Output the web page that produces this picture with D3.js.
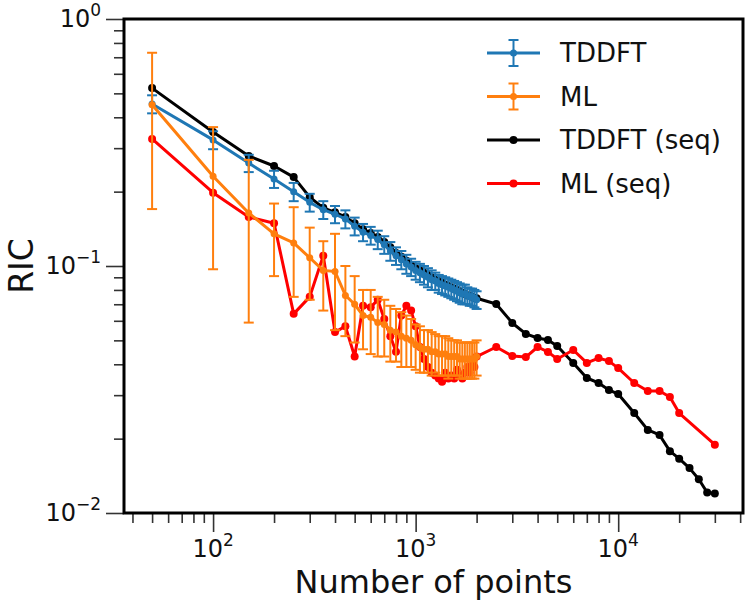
<!DOCTYPE html>
<html><head><meta charset="utf-8">
<script src="https://cdn.jsdelivr.net/npm/d3@7"></script>
<style>body{margin:0;background:#fff}svg{font-family:"DejaVu Sans",sans-serif}</style>
</head><body><svg id="c" width="750" height="607"></svg>
<script>
// ---- data ----
const nGrid = [50,100,150,200,250,300,350,400,450,500,550,600,650,700,750,800,850,900,950,1000,
  1050,1100,1150,1200,1250,1300,1350,1400,1450,1500,1550,1600,1650,1700,1750,1800,1850,1900,1950,2000];
const tddft = [0.453,0.324,0.261,0.225,0.200,0.181,0.169,0.162,0.155,0.145,
  0.137,0.133,0.128,0.122,0.115,0.110,0.106,0.102,0.099,0.096,
  0.094,0.092,0.090,0.088,0.087,0.085,0.084,0.083,0.082,0.081,
  0.080,0.079,0.078,0.077,0.077,0.076,0.075,0.075,0.074,0.073];
const tddftErr = [0.038,0.027,0.021,0.018,0.017,0.015,0.014,0.013,0.013,0.012,
  0.011,0.011,0.011,0.010,0.010,0.009,0.009,0.009,0.008,0.008,
  0.008,0.008,0.008,0.008,0.007,0.007,0.007,0.007,0.007,0.007,
  0.007,0.007,0.007,0.007,0.007,0.006,0.006,0.006,0.006,0.006];
const ml = [0.450,0.231,0.164,0.135,0.124,0.108,0.096,0.095,0.076,0.070,
  0.063,0.062,0.059,0.058,0.055,0.054,0.052,0.051,0.050,0.048,
  0.047,0.046,0.046,0.045,0.045,0.044,0.044,0.044,0.043,0.043,
  0.043,0.043,0.042,0.042,0.042,0.042,0.042,0.042,0.042,0.043];
const mlErr = [0.280,0.134,0.105,0.044,0.049,0.035,0.030,0.040,0.024,0.021,
  0.017,0.018,0.016,0.015,0.014,0.013,0.013,0.012,0.011,0.010,
  0.010,0.009,0.009,0.009,0.008,0.008,0.008,0.008,0.008,0.007,
  0.007,0.007,0.007,0.007,0.007,0.007,0.007,0.007,0.007,0.007];
const nTailTddft = [2500,3000,3500,4000,4500,5000,6000,7000,8000,9000,10000,
  12000,14000,16000,18000,20000,22500,25000,27500,30000];
const tddftSeq = [0.525,0.349,0.279,0.254,0.229,0.190,0.172,0.165,0.158,0.149,
  0.141,0.136,0.131,0.125,0.119,0.113,0.109,0.105,0.101,0.098,
  0.096,0.094,0.092,0.090,0.088,0.087,0.086,0.084,0.083,0.082,
  0.081,0.080,0.079,0.078,0.077,0.076,0.076,0.075,0.074,0.074,
  0.0702,0.0588,0.0531,0.0511,0.0502,0.0474,0.0405,0.0352,0.0336,0.0315,
  0.0303,0.0254,0.0217,0.0207,0.0178,0.0166,0.0152,0.0137,0.0121,0.0120];
const nTailMl = [2500,3000,3500,4000,4500,5000,6000,7000,8000,9000,10000,
  12000,14000,16000,18000,20000,30000];
const mlSeq = [0.327,0.198,0.158,0.149,0.064,0.075,0.110,0.054,0.057,0.043,
  0.069,0.068,0.073,0.061,0.052,0.045,0.063,0.069,0.066,0.057,
  0.047,0.042,0.039,0.037,0.036,0.035,0.034,0.037,0.035,0.036,
  0.035,0.038,0.036,0.035,0.037,0.039,0.037,0.040,0.039,0.043,
  0.047,0.0432,0.0428,0.047,0.0449,0.042,0.0457,0.0405,0.0424,0.0412,
  0.0386,0.0336,0.0312,0.0312,0.0295,0.0254,0.0189];
const xMajor = [100,1000,10000];
const xMajorExp = ["2","3","4"];
const xMinor = [40,50,60,70,80,90,200,300,400,500,600,700,800,900,
  2000,3000,4000,5000,6000,7000,8000,9000,20000,30000,40000];
const yMajor = [0.01,0.1,1];
const yMajorExp = ["\u22122","\u22121","0"];
const yMinor = [0.02,0.03,0.04,0.05,0.06,0.07,0.08,0.09,0.2,0.3,0.4,0.5,0.6,0.7,0.8,0.9];
const legendLabels = ["TDDFT","ML","TDDFT (seq)","ML (seq)"];
const colors = ["#1f77b4","#ff7f0e","#000000","#ff0000"];

// ---- layout ----
const L = 124, R = 743, T = 19, B = 513;
const svg = d3.select("#c");
const x = d3.scaleLog().domain([36.33, 41318]).range([L, R]);
const y = d3.scaleLog().domain([0.01, 1]).range([B, T]);

// axes ticks
const tickCol = "#333";
function styleAxis(g){ g.select(".domain").remove(); g.selectAll("line").attr("stroke", tickCol).attr("stroke-width", 1.6); }
svg.append("g").attr("transform",`translate(0,${B})`)
  .call(d3.axisBottom(x).tickValues(xMinor).tickSize(10).tickFormat("")).call(styleAxis);
svg.append("g").attr("transform",`translate(0,${B})`)
  .call(d3.axisBottom(x).tickValues(xMajor).tickSize(19).tickFormat("")).call(styleAxis);
svg.append("g").attr("transform",`translate(${L},0)`)
  .call(d3.axisLeft(y).tickValues(yMinor).tickSize(10).tickFormat("")).call(styleAxis);
svg.append("g").attr("transform",`translate(${L},0)`)
  .call(d3.axisLeft(y).tickValues(yMajor).tickSize(18).tickFormat("")).call(styleAxis);

// tick labels
xMajor.forEach((v,i)=>{
  const t = svg.append("text").attr("x", x(v)).attr("y", 557).attr("text-anchor","middle")
    .attr("font-size", 24).attr("fill","#111");
  t.append("tspan").text("10");
  t.append("tspan").attr("dy",-11).attr("font-size",17).text(xMajorExp[i]);
});
yMajor.forEach((v,i)=>{
  const t = svg.append("text").attr("x", 101).attr("y", y(v)+8).attr("text-anchor","end")
    .attr("font-size", 24).attr("fill","#111");
  t.append("tspan").text("10");
  t.append("tspan").attr("dy",-11).attr("font-size",17).text(yMajorExp[i]);
});

// axis titles
svg.append("text").attr("x", (L+R)/2).attr("y", 593).attr("text-anchor","middle")
  .attr("font-size", 32).attr("fill","#111").text("Number of points");
svg.append("text").attr("transform",`translate(33,${(T+B)/2}) rotate(-90)`).attr("text-anchor","middle")
  .attr("font-size", 33).attr("fill","#111").text("RIC");

// series
const plot = svg.append("g");
const line = d3.line().x(d=>x(d[0])).y(d=>y(d[1]));
function errSeries(xs, ys, es, col){
  const g = plot.append("g");
  const pts = xs.map((v,i)=>[v, ys[i], es[i]]);
  g.append("path").datum(pts).attr("d", line).attr("fill","none").attr("stroke",col)
    .attr("stroke-width",3).attr("stroke-linejoin","round");
  g.selectAll(null).data(pts).enter().append("line")
    .attr("x1",d=>x(d[0])).attr("x2",d=>x(d[0]))
    .attr("y1",d=>y(d[1]+d[2])).attr("y2",d=>y(d[1]-d[2]))
    .attr("stroke",col).attr("stroke-width",2);
  [1,-1].forEach(s=>{
    g.selectAll(null).data(pts).enter().append("line")
      .attr("x1",d=>x(d[0])-5).attr("x2",d=>x(d[0])+5)
      .attr("y1",d=>y(d[1]+s*d[2])).attr("y2",d=>y(d[1]+s*d[2]))
      .attr("stroke",col).attr("stroke-width",2);
  });
  g.selectAll(null).data(pts).enter().append("circle")
    .attr("cx",d=>x(d[0])).attr("cy",d=>y(d[1])).attr("r",3.5).attr("fill",col);
}
function seqSeries(xs, ys, col){
  const g = plot.append("g");
  const pts = xs.map((v,i)=>[v, ys[i]]);
  g.append("path").datum(pts).attr("d", line).attr("fill","none").attr("stroke",col)
    .attr("stroke-width",3).attr("stroke-linejoin","round");
  g.selectAll(null).data(pts).enter().append("circle")
    .attr("cx",d=>x(d[0])).attr("cy",d=>y(d[1])).attr("r",4).attr("fill",col);
}
seqSeries(nGrid.concat(nTailTddft), tddftSeq, colors[2]);
seqSeries(nGrid.concat(nTailMl), mlSeq, colors[3]);
errSeries(nGrid, tddft, tddftErr, colors[0]);
errSeries(nGrid, ml, mlErr, colors[1]);

// frame
svg.append("rect").attr("x",L).attr("y",T).attr("width",R-L).attr("height",B-T)
  .attr("fill","none").attr("stroke","#000").attr("stroke-width",3);

// legend
const lg = svg.append("g");
legendLabels.forEach((lab,i)=>{
  const cy = 53 + i*43.5, col = colors[i];
  lg.append("line").attr("x1",487).attr("x2",540).attr("y1",cy).attr("y2",cy)
    .attr("stroke",col).attr("stroke-width",3);
  if(i<2){
    lg.append("line").attr("x1",513.5).attr("x2",513.5).attr("y1",cy-13).attr("y2",cy+13).attr("stroke",col).attr("stroke-width",2);
    [-13,13].forEach(o=>lg.append("line").attr("x1",508.5).attr("x2",518.5).attr("y1",cy+o).attr("y2",cy+o).attr("stroke",col).attr("stroke-width",2));
    lg.append("circle").attr("cx",513.5).attr("cy",cy).attr("r",3.5).attr("fill",col);
  } else {
    lg.append("circle").attr("cx",513.5).attr("cy",cy).attr("r",4).attr("fill",col);
  }
  lg.append("text").attr("x",560).attr("y",cy+9).attr("font-size",26).attr("fill","#111").text(lab);
});
</script></body></html>
